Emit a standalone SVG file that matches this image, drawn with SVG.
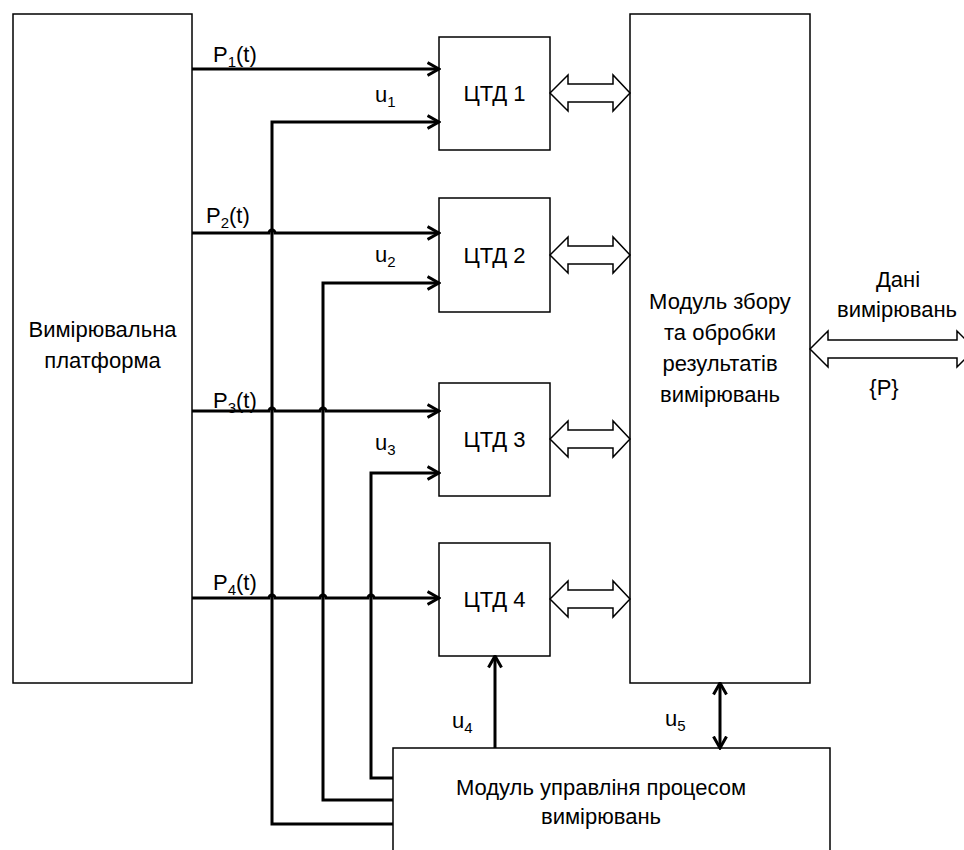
<svg xmlns="http://www.w3.org/2000/svg" width="964" height="850" viewBox="0 0 964 850">
<style>
.box{fill:#fff;stroke:#000;stroke-width:1.5}
.t{font-family:"Liberation Sans",Arial,sans-serif;font-size:22px;fill:#000}
.c{text-anchor:middle}
.sub{font-size:15px}
.ln{fill:none;stroke:#000;stroke-width:3}
.blk{fill:#fff;stroke:#000;stroke-width:1.5;stroke-linejoin:miter}
</style>
<defs>
<marker id="arr" viewBox="0 0 14 16" refX="12.5" refY="8" markerWidth="14" markerHeight="16" markerUnits="userSpaceOnUse" orient="auto-start-reverse">
<path d="M1,1.5 L12.5,8 L1,14.5" fill="none" stroke="#000" stroke-width="3"/>
</marker>
<polygon id="dbl" points="550,0 568,-18 568,-9 613,-9 613,-18 630,0 613,18 613,9 568,9 568,18"/>
</defs>

<g id="platform">
<rect class="box" x="13" y="14" width="179" height="669"/>
<text class="t c" x="102.5" y="337">Вимірювальна</text>
<text class="t c" x="102.5" y="368">платформа</text>
</g>

<g id="ctd1">
<rect class="box" x="439" y="37" width="111" height="113"/>
<text class="t c" x="494.5" y="101">ЦТД 1</text>
</g>
<g id="ctd2">
<rect class="box" x="439" y="198" width="111" height="114"/>
<text class="t c" x="494.5" y="263">ЦТД 2</text>
</g>
<g id="ctd3">
<rect class="box" x="439" y="383" width="111" height="113"/>
<text class="t c" x="494.5" y="447">ЦТД 3</text>
</g>
<g id="ctd4">
<rect class="box" x="439" y="543" width="111" height="113"/>
<text class="t c" x="494.5" y="607">ЦТД 4</text>
</g>

<g id="collector">
<rect class="box" x="630" y="14" width="180" height="669"/>
<text class="t c" x="720" y="309">Модуль збору</text>
<text class="t c" x="720" y="340">та обробки</text>
<text class="t c" x="720" y="371">результатів</text>
<text class="t c" x="720" y="402">вимірювань</text>
</g>

<g id="control">
<rect class="box" x="393" y="748" width="437" height="120"/>
<text class="t c" x="601" y="795">Модуль управліня процесом</text>
<text class="t c" x="601" y="824">вимірювань</text>
</g>

<g id="connectors">
<path class="ln" marker-end="url(#arr)" d="M192,69 H439"/>
<path class="ln" marker-end="url(#arr)" d="M192,233 H269 A3,3 0 0 1 275,233 H439"/>
<path class="ln" marker-end="url(#arr)" d="M192,411 H269 A3,3 0 0 1 275,411 H320 A3,3 0 0 1 326,411 H439"/>
<path class="ln" marker-end="url(#arr)" d="M192,598 H269 A3,3 0 0 1 275,598 H320 A3,3 0 0 1 326,598 H368 A3,3 0 0 1 374,598 H439"/>
<path class="ln" marker-end="url(#arr)" d="M393,824 H272 V122 H439"/>
<path class="ln" marker-end="url(#arr)" d="M393,800 H323 V283 H439"/>
<path class="ln" marker-end="url(#arr)" d="M393,778 H371 V473 H439"/>
<path class="ln" marker-end="url(#arr)" d="M495,748 V656"/>
<path class="ln" marker-start="url(#arr)" marker-end="url(#arr)" d="M720,683 V748"/>
<use href="#dbl" class="blk" transform="translate(0,93)"/>
<use href="#dbl" class="blk" transform="translate(0,255)"/>
<use href="#dbl" class="blk" transform="translate(0,439)"/>
<use href="#dbl" class="blk" transform="translate(0,599)"/>
<polygon class="blk" points="810,349 828,331 828,340 957,340 957,331 975,349 957,367 957,358 828,358 828,367"/>
<text class="t" x="213" y="62">P<tspan class="sub" dy="5">1</tspan><tspan dy="-5">(t)</tspan></text>
<text class="t" x="206" y="223">P<tspan class="sub" dy="5">2</tspan><tspan dy="-5">(t)</tspan></text>
<text class="t" x="213" y="408">P<tspan class="sub" dy="5">3</tspan><tspan dy="-5">(t)</tspan></text>
<text class="t" x="213" y="590">P<tspan class="sub" dy="5">4</tspan><tspan dy="-5">(t)</tspan></text>
<text class="t" x="375" y="102">u<tspan class="sub" dy="5">1</tspan></text>
<text class="t" x="375" y="262">u<tspan class="sub" dy="5">2</tspan></text>
<text class="t" x="375" y="450">u<tspan class="sub" dy="5">3</tspan></text>
<text class="t" x="452" y="728">u<tspan class="sub" dy="5">4</tspan></text>
<text class="t" x="665" y="726">u<tspan class="sub" dy="5">5</tspan></text>
<text class="t c" x="898" y="287">Дані</text>
<text class="t c" x="897" y="317">вимірювань</text>
<text class="t c" x="884" y="395">{P}</text>
</g>
</svg>
